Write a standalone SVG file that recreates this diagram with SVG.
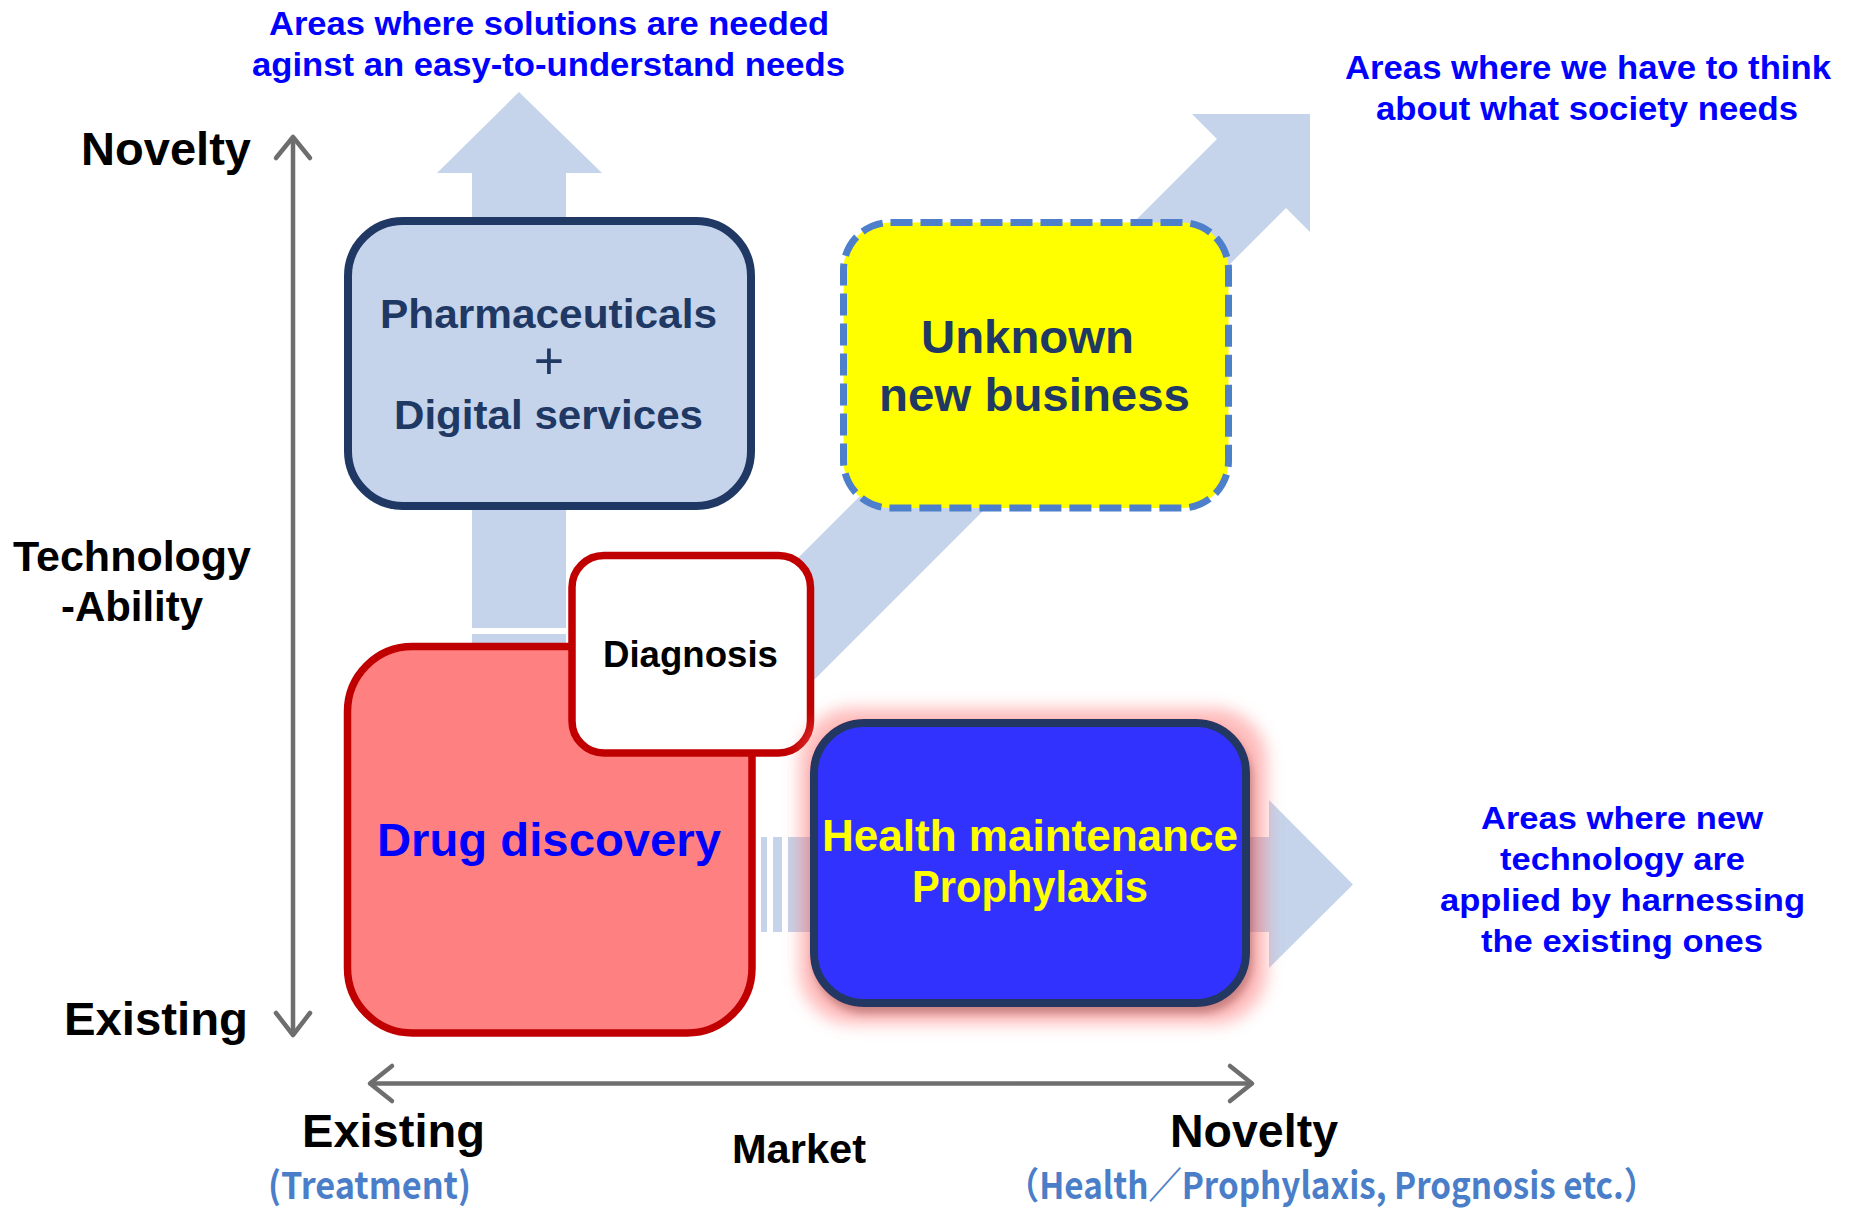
<svg xmlns="http://www.w3.org/2000/svg" width="1850" height="1210" viewBox="0 0 1850 1210">
<defs>
<style>
text{font-family:"Liberation Sans",Arial,sans-serif;font-weight:bold}
.blue{fill:#0000FF}
.blk{fill:#000}
.navy{fill:#203864}
.sub{fill:#4A7EC8;font-family:"Noto Sans CJK JP","Liberation Sans",sans-serif;font-weight:bold}
.arrow{fill:#C5D4EA}
.axis{fill:none;stroke:#6E6E6E;stroke-width:4.5;stroke-linecap:round;stroke-linejoin:round}
</style>
<filter id="glow" x="-20%" y="-25%" width="140%" height="150%">
<feMorphology in="SourceAlpha" operator="dilate" radius="14" result="d"/>
<feOffset in="d" dx="3" dy="3" result="dd"/>
<feGaussianBlur in="dd" stdDeviation="8" result="b"/>
<feFlood flood-color="#FF6A6A" flood-opacity="0.45"/>
<feComposite in2="b" operator="in" result="g"/>
<feGaussianBlur in="SourceAlpha" stdDeviation="4" result="sb"/>
<feOffset in="sb" dx="3" dy="7" result="so"/>
<feFlood flood-color="#000" flood-opacity="0.4"/>
<feComposite in2="so" operator="in" result="s"/>
<feMerge><feMergeNode in="g"/><feMergeNode in="s"/><feMergeNode in="SourceGraphic"/></feMerge>
</filter>
</defs>
<rect width="1850" height="1210" fill="#fff"/>

<g id="connectors">
<polygon class="arrow" points="519,92 602,173 566,173 566,628 472,628 472,173 437,173"/>
<rect class="arrow" x="472" y="634" width="94" height="20"/>
<polygon class="arrow" points="1310,114 1310,232 1286,208 672,822 603,753 1217,139 1192,114"/>
<polygon class="arrow" points="788,837 1269,837 1269,800 1353,884.5 1269,968 1269,932 788,932"/>
<rect class="arrow" x="761" y="837" width="6" height="95"/>
<rect class="arrow" x="773" y="837" width="9" height="95"/>
</g>

<g id="axes">
<line class="axis" x1="293" y1="140" x2="293" y2="1033"/>
<polyline class="axis" points="276,158 293,137 310,158"/>
<polyline class="axis" points="276,1013 293,1035 310,1013"/>
<line class="axis" x1="372" y1="1083.5" x2="1249" y2="1083.5"/>
<polyline class="axis" points="392,1066 370,1083.5 392,1101"/>
<polyline class="axis" points="1230,1066 1252,1083.5 1230,1101"/>
</g>

<g id="pharma">
<rect x="348" y="221" width="403" height="285" rx="55" fill="#C5D4EA" stroke="#203864" stroke-width="8"/>
<text class="navy" x="380" y="328" font-size="41" textLength="337" lengthAdjust="spacingAndGlyphs">Pharmaceuticals</text>
<text class="navy" x="549" y="379" font-size="52" text-anchor="middle" style="font-weight:normal">+</text>
<text class="navy" x="394" y="429" font-size="41" textLength="309" lengthAdjust="spacingAndGlyphs">Digital services</text>
</g>

<g id="unknown">
<rect x="843.5" y="222.5" width="385" height="285.5" rx="47" fill="#FFFF00" stroke="#4E7FCB" stroke-width="7" stroke-dasharray="22 8"/>
<text class="navy" x="921" y="353" font-size="46" textLength="213" lengthAdjust="spacingAndGlyphs">Unknown</text>
<text class="navy" x="879" y="411" font-size="46" textLength="311" lengthAdjust="spacingAndGlyphs">new business</text>
</g>

<g id="drug">
<rect x="347.5" y="646.5" width="404.5" height="386.5" rx="65" fill="#FF8080" stroke="#C00000" stroke-width="7.5"/>
<text class="blue" x="377" y="856" font-size="47" textLength="344" lengthAdjust="spacingAndGlyphs">Drug discovery</text>
</g>

<g id="diagnosis">
<rect x="572" y="555.5" width="238.5" height="197.5" rx="32" fill="#fff" stroke="#C00000" stroke-width="7.5"/>
<text class="blk" x="603" y="667" font-size="37" textLength="175" lengthAdjust="spacingAndGlyphs">Diagnosis</text>
</g>

<g id="health">
<rect x="814" y="723" width="432" height="280" rx="50" fill="#3333FF" stroke="#203864" stroke-width="8" filter="url(#glow)"/>
<text x="822" y="851" font-size="45" fill="#FFFF00" textLength="416" lengthAdjust="spacingAndGlyphs">Health maintenance</text>
<text x="912" y="902" font-size="45" fill="#FFFF00" textLength="236" lengthAdjust="spacingAndGlyphs">Prophylaxis</text>
</g>

<g id="labels">
<text class="blue" x="269" y="35" font-size="33" textLength="560" lengthAdjust="spacingAndGlyphs">Areas where solutions are needed</text>
<text class="blue" x="252" y="76" font-size="33" textLength="593" lengthAdjust="spacingAndGlyphs">aginst an easy-to-understand needs</text>
<text class="blue" x="1345" y="79" font-size="34" textLength="486" lengthAdjust="spacingAndGlyphs">Areas where we have to think</text>
<text class="blue" x="1376" y="120" font-size="34" textLength="422" lengthAdjust="spacingAndGlyphs">about what society needs</text>
<text class="blue" x="1481" y="829" font-size="32" textLength="282" lengthAdjust="spacingAndGlyphs">Areas where new</text>
<text class="blue" x="1500" y="870" font-size="32" textLength="245" lengthAdjust="spacingAndGlyphs">technology are</text>
<text class="blue" x="1440" y="911" font-size="32" textLength="365" lengthAdjust="spacingAndGlyphs">applied by harnessing</text>
<text class="blue" x="1481" y="952" font-size="32" textLength="282" lengthAdjust="spacingAndGlyphs">the existing ones</text>
<text class="blk" x="81" y="165" font-size="47" textLength="170" lengthAdjust="spacingAndGlyphs">Novelty</text>
<text class="blk" x="13" y="571" font-size="43" textLength="238" lengthAdjust="spacingAndGlyphs">Technology</text>
<text class="blk" x="61" y="621" font-size="43" textLength="142" lengthAdjust="spacingAndGlyphs">-Ability</text>
<text class="blk" x="64" y="1035" font-size="46" textLength="184" lengthAdjust="spacingAndGlyphs">Existing</text>
<text class="blk" x="302" y="1147" font-size="46" textLength="183" lengthAdjust="spacingAndGlyphs">Existing</text>
<text class="blk" x="732" y="1163" font-size="40" textLength="134" lengthAdjust="spacingAndGlyphs">Market</text>
<text class="blk" x="1170" y="1147" font-size="46" textLength="168" lengthAdjust="spacingAndGlyphs">Novelty</text>
<text class="sub" x="268" y="1199" font-size="37" textLength="203" lengthAdjust="spacingAndGlyphs">(Treatment)</text>
<text class="sub" x="1006" y="1199" font-size="37" textLength="651" lengthAdjust="spacingAndGlyphs">（Health／Prophylaxis, Prognosis etc.）</text>
</g>
</svg>
